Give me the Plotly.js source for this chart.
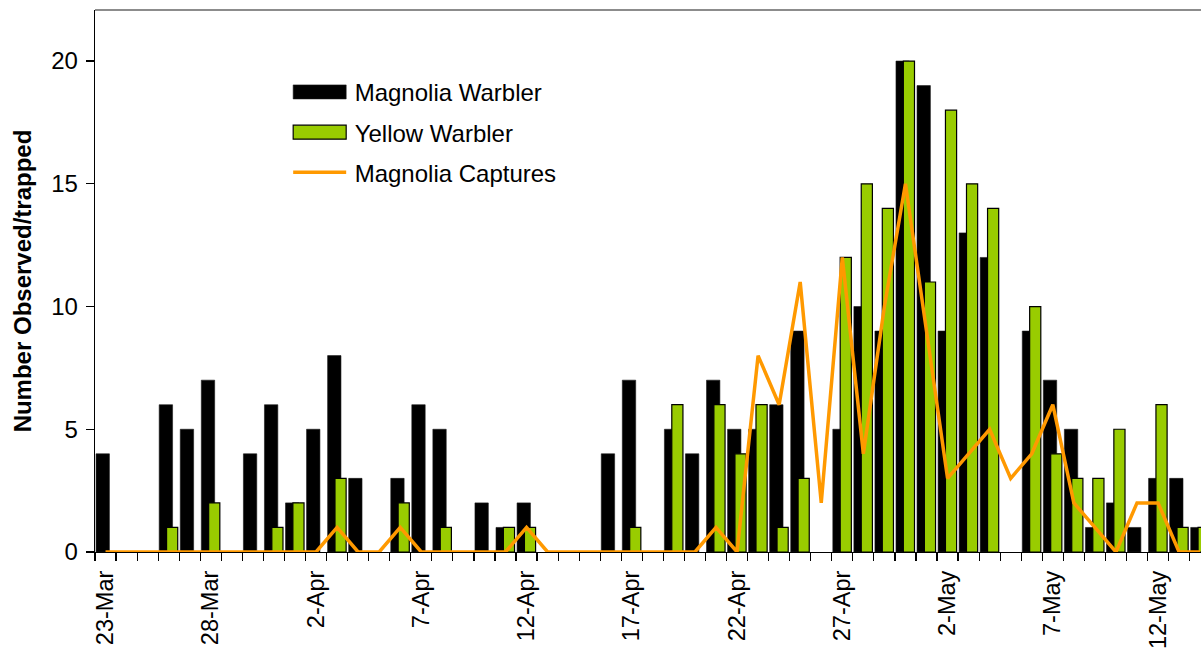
<!DOCTYPE html>
<html><head><meta charset="utf-8">
<script src="https://cdn.plot.ly/plotly-3.0.1.min.js"></script>
<style>html,body{margin:0;padding:0;background:#fff}#chart{width:1201px;height:650px}</style>
</head><body><div id="chart"></div>
<script>
const dates = [
  '23-Mar','24-Mar','25-Mar','26-Mar','27-Mar','28-Mar','29-Mar','30-Mar','31-Mar',
  '1-Apr','2-Apr','3-Apr','4-Apr','5-Apr','6-Apr','7-Apr','8-Apr','9-Apr','10-Apr',
  '11-Apr','12-Apr','13-Apr','14-Apr','15-Apr','16-Apr','17-Apr','18-Apr','19-Apr','20-Apr',
  '21-Apr','22-Apr','23-Apr','24-Apr','25-Apr','26-Apr','27-Apr','28-Apr','29-Apr','30-Apr',
  '1-May','2-May','3-May','4-May','5-May','6-May','7-May','8-May','9-May','10-May',
  '11-May','12-May','13-May','14-May'
];
const magnoliaWarbler = [
  4,0,0,6,5,7,0,4,6,
  2,5,8,3,0,3,6,5,0,2,
  1,2,0,0,0,4,7,0,5,4,
  7,5,5,6,9,0,5,10,9,20,
  19,9,13,12,0,9,7,5,1,2,
  1,3,3,1
];
const yellowWarbler = [
  0,0,0,1,0,2,0,0,1,
  2,0,3,0,0,2,0,1,0,0,
  1,1,0,0,0,0,1,0,6,0,
  6,4,6,1,3,0,12,15,14,20,
  11,18,15,14,0,10,4,3,3,5,
  0,6,1,1
];
const magnoliaCaptures = [
  0,0,0,0,0,0,0,0,0,
  0,0,1,0,0,1,0,0,0,0,
  0,1,0,0,0,0,0,0,0,0,
  1,0,8,6,11,2,12,4,10,15,
  9,3,4,5,3,4,6,2,1,0,
  2,2,0,0
];
const tickEvery = 5;
const yTicks = [0, 5, 10, 15, 20];

const idx = dates.map((_, i) => i);
const tickIdx = idx.filter(i => i % tickEvery === 0);
const boundaries = idx.map(i => i - 0.5).concat([dates.length - 0.5]);
const nonZero = arr => arr.map(v => (v === 0 ? null : v));
const xRange = [-0.5, 52.04];
const yRange = [0, 22.08];
const FONT = '"Liberation Sans", Arial, Helvetica, sans-serif';

const traces = [
  {type:'bar', name:'Magnolia Warbler', x:idx, y:nonZero(magnoliaWarbler), width:0.635, offset:-0.45,
   marker:{color:'#000000', line:{color:'#1a1a1a', width:0.6}}, legendgroup:'a'},
  {type:'bar', name:'Yellow Warbler', x:idx, y:nonZero(yellowWarbler), width:0.53, offset:-0.1,
   marker:{color:'#99CC00', line:{color:'#000000', width:1.2}}, legendgroup:'b'},
  {type:'scatter', mode:'lines', name:'Magnolia Captures', x:idx, y:magnoliaCaptures,
   line:{color:'#FF9900', width:3.5}, cliponaxis:false, legendgroup:'c'}
];

const layout = {
  width:1201, height:650,
  margin:{l:95, r:0, t:10, b:98, pad:0},
  paper_bgcolor:'#ffffff', plot_bgcolor:'#ffffff',
  barmode:'overlay',
  font:{family:FONT, color:'#000000'},
  showlegend:true,
  legend:{x:0.1715, y:0.8896, xanchor:'left', yanchor:'top', bgcolor:'rgba(0,0,0,0)',
          font:{size:24, family:FONT, color:'#000'}, itemwidth:60, tracegroupgap:6, traceorder:'grouped'},
  xaxis:{range:xRange, tickmode:'array', tickvals:tickIdx, ticktext:tickIdx.map(i => dates[i]),
         ticks:'outside', ticklen:8, tickcolor:'rgba(0,0,0,0)', tickangle:-90,
         tickfont:{size:23.5, family:FONT}, showline:true, linecolor:'#000', linewidth:1.3,
         showgrid:false, zeroline:false, layer:'below traces', fixedrange:true,
         minor:{tickmode:'array', tickvals:boundaries, ticks:'outside', ticklen:8, tickcolor:'#000', tickwidth:1.2, showgrid:false}},
  xaxis2:{overlaying:'x', anchor:'y', range:xRange, showticklabels:false, ticks:'', showline:false,
          showgrid:false, zeroline:false, fixedrange:true,
          minor:{tickmode:'array', tickvals:boundaries, ticks:'inside', ticklen:7, tickcolor:'#555', tickwidth:1.2, showgrid:false}},
  yaxis:{range:yRange, tickmode:'array', tickvals:yTicks, ticks:'outside', ticklen:8, tickcolor:'#000', tickwidth:1.2,
         tickfont:{size:24, family:FONT}, ticklabelstandoff:3, showline:true, linecolor:'#000', linewidth:1.3,
         showgrid:false, zeroline:false, fixedrange:true,
         title:{text:'Number Observed/trapped', font:{size:24, family:FONT, weight:'bold'}, standoff:12}},
  yaxis2:{overlaying:'y', anchor:'x', side:'left', range:yRange, tickmode:'array', tickvals:yTicks,
          ticks:'inside', ticklen:8, tickcolor:'#000', tickwidth:1.2, showticklabels:false,
          showline:false, showgrid:false, zeroline:false, fixedrange:true},
  shapes:[{type:'line', xref:'paper', yref:'paper', x0:0, x1:1, y0:1, y1:1, line:{color:'#8c8c8c', width:2}}]
};

Plotly.newPlot('chart', traces, layout, {staticPlot:true, displayModeBar:false}).then(gd => {
  gd.querySelectorAll('.legend .traces').forEach(tr => {
    tr.querySelectorAll('.legendpoints path').forEach(p => {
      p.setAttribute('d', 'M-26.5,7H26.5V-7H-26.5Z');
    });
    tr.querySelectorAll('.legendlines path').forEach(p => {
      const b = p.getBBox();
      const cx = b.x + b.width / 2;
      p.setAttribute('d', 'M' + (cx - 26.5) + ',0h53');
    });
  });
});
</script></body></html>
